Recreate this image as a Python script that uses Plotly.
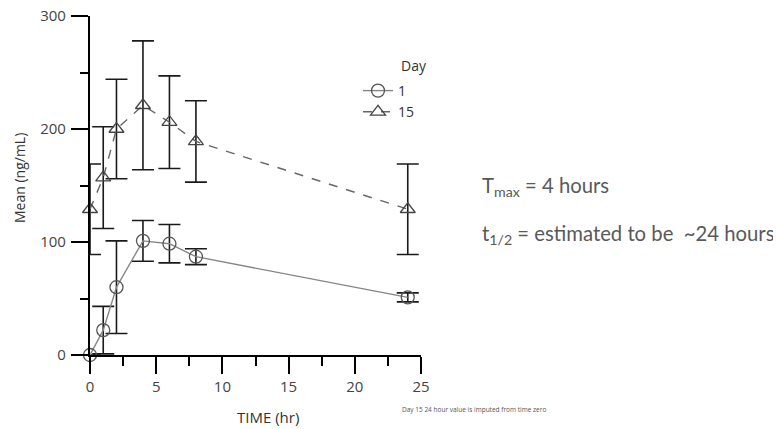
import plotly.graph_objects as go

time_hr = [0, 1, 2, 4, 6, 8, 24]
day1_mean = [0, 22, 60, 101, 98.5, 87, 51]
day1_sd = [0, 21, 41, 18, 17, 7, 4]
day15_mean = [129, 157, 200, 221, 206, 189, 129]
day15_sd = [40, 45, 44, 57, 41, 36, 40]

FONT = "Open Sans"
OFF = 7  # page offset of the plot div
W, H = 781, 429
# target plot area in page pixels
X0, X1, Y0, Y1 = 89, 420, 15, 354
L, R, T, B = X0 - OFF, W - (X1 - OFF), Y0 - OFF, H - (Y1 - OFF)
PW, PH = W - L - R, H - T - B


def px(xp):
    return (xp - X0) / PW


def py(yp):
    return (Y1 - yp) / PH


fig = go.Figure()

fig.add_trace(go.Scatter(
    x=time_hr, y=day1_mean, name="1", mode="lines+markers",
    line=dict(color="#858585", width=1.4),
    marker=dict(symbol="circle-open", size=13, color="#555555", line=dict(width=1.3)),
    error_y=dict(type="data", array=day1_sd, color="#1a1a1a", thickness=1.6, width=11),
    cliponaxis=False,
))
fig.add_trace(go.Scatter(
    x=time_hr, y=day15_mean, name="15", mode="lines+markers",
    line=dict(color="#666666", width=1.4, dash="dash"),
    marker=dict(symbol="triangle-up-open", size=13, color="#444444", line=dict(width=1.3)),
    error_y=dict(type="data", array=day15_sd, color="#1a1a1a", thickness=1.6, width=11),
    cliponaxis=False,
))

axis_common = dict(
    showgrid=False, zeroline=False, showline=True, linecolor="black", linewidth=2.2,
    ticks="outside", ticklen=17, tickwidth=1.8, tickcolor="black",
    tickfont=dict(family=FONT, size=15, color="#444444"), automargin=False,
    ticklabeloverflow="allow",
)
fig.update_xaxes(
    range=[0, 25], dtick=5, tick0=0,
    minor=dict(ticks="outside", ticklen=9, tickwidth=1.8, tickcolor="black", dtick=2.5),
    **axis_common,
)
fig.update_yaxes(
    range=[0, 300], dtick=100, tick0=0, ticklabelstandoff=2,
    minor=dict(ticks="outside", ticklen=8, tickwidth=1.8, tickcolor="black", dtick=50),
    **axis_common,
)

fig.update_layout(
    width=W, height=H,
    margin=dict(l=L, r=R, t=T, b=B, autoexpand=False),
    paper_bgcolor="white", plot_bgcolor="white",
    font=dict(family=FONT, color="#333333"),
    showlegend=True,
    legend=dict(
        x=px(357), y=py(74), xanchor="left", yanchor="top",
        font=dict(family=FONT, size=14, color="#333333"),
        bgcolor="rgba(0,0,0,0)", tracegroupgap=0, itemwidth=30,
    ),
    annotations=[
        dict(text="TIME (hr)", xref="paper", yref="paper", x=px(267), y=py(416),
             xanchor="center", yanchor="middle", showarrow=False,
             font=dict(family=FONT, size=15, color="#333333")),
        dict(text="Mean (ng/mL)", xref="paper", yref="paper", x=px(18), y=py(177),
             xanchor="center", yanchor="middle", showarrow=False, textangle=-90,
             font=dict(family=FONT, size=14, color="#333333")),
        dict(text="Day", xref="paper", yref="paper", x=px(398), y=py(64),
             xanchor="left", yanchor="middle", showarrow=False,
             font=dict(family=FONT, size=14, color="#333333")),
        dict(text="T<sub>max</sub> = 4 hours", xref="paper", yref="paper",
             x=px(479), y=py(185), xanchor="left", yanchor="middle",
             showarrow=False, font=dict(family="Lato", size=20.3, color="#595959")),
        dict(text="t<sub>1/2</sub> = estimated to be  ~24 hours", xref="paper", yref="paper",
             x=px(479), y=py(233), xanchor="left", yanchor="middle",
             showarrow=False, font=dict(family="Lato", size=20.3, color="#595959")),
        dict(text="Day 15 24 hour value is imputed from time zero", xref="paper", yref="paper",
             x=px(399), y=py(408), xanchor="left", yanchor="middle",
             showarrow=False, font=dict(family=FONT, size=6.5, color="#555555")),
    ],
)

fig.write_html("out.html")
